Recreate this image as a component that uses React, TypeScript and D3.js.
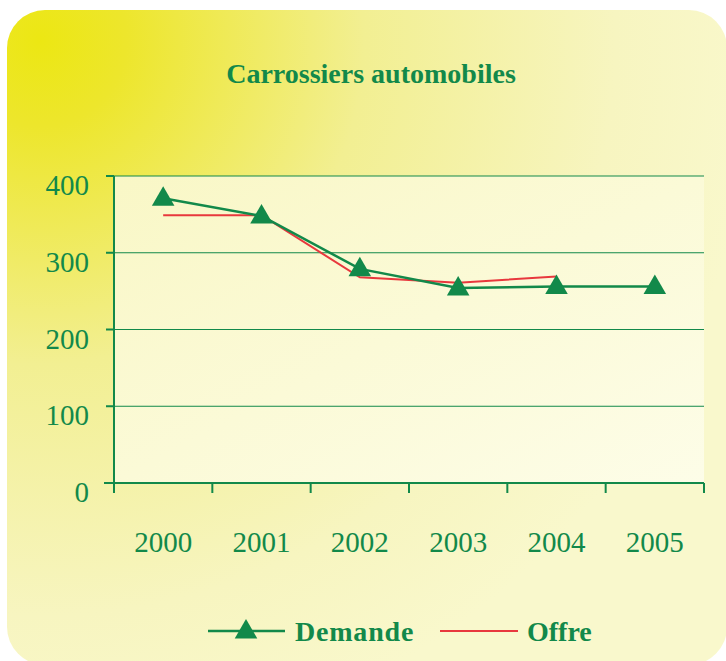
import React from 'react';
import * as d3 from 'd3';

// Carrossiers automobiles: demande vs offre, 2000-2005
const years = ['2000', '2001', '2002', '2003', '2004', '2005'];
const demande = [371, 348, 279, 254, 256, 256];
const offre = [349, 349, 268, 261, 269];
const yTicks = [0, 100, 200, 300, 400];

const W = 726;
const H = 661;
const PLOT = { left: 114, right: 704, top: 176, bottom: 483 };
const GREEN = '#12894a';
const RED = '#e8383d';
const FONT = '"Liberation Serif", "Times New Roman", serif';

const App = () => {
  const x = d3.scaleBand().domain(years).range([PLOT.left, PLOT.right]).padding(0);
  const y = d3.scaleLinear().domain([0, 400]).range([PLOT.bottom, PLOT.top]);
  const cx = (yr: string) => (x(yr) ?? 0) + x.bandwidth() / 2;

  const line = d3
    .line<number>()
    .x((_d, i) => cx(years[i]))
    .y((d) => y(d));

  const tri = d3.symbol().type(d3.symbolTriangle).size(220);
  const bounds = [...years.map((yr) => x(yr) ?? 0), PLOT.right];

  return (
    <div style={{ position: 'absolute', left: 0, top: 0 }}>
      <svg width={W} height={H} style={{ display: 'block' }}>
        <defs>
          <radialGradient id="bg" gradientUnits="userSpaceOnUse" cx={40} cy={40} r={720}>
            <stop offset="0" stopColor="#ece713" />
            <stop offset="0.12" stopColor="#ede62c" />
            <stop offset="0.45" stopColor="#f2ef92" />
            <stop offset="0.8" stopColor="#f7f5c0" />
            <stop offset="1" stopColor="#f9f8cc" />
          </radialGradient>
          <linearGradient id="plotbg" x1="0" y1="0" x2="1" y2="1">
            <stop offset="0" stopColor="#f9f7c6" />
            <stop offset="1" stopColor="#fdfde8" />
          </linearGradient>
        </defs>

        <rect x={7} y={10} width={720} height={655} rx={38} fill="url(#bg)" />
        <rect
          x={PLOT.left}
          y={PLOT.top}
          width={PLOT.right - PLOT.left}
          height={PLOT.bottom - PLOT.top}
          fill="url(#plotbg)"
        />

        <text
          x={371}
          y={83}
          textAnchor="middle"
          fontFamily={FONT}
          fontWeight="bold"
          fontSize={28}
          fill={GREEN}
        >
          Carrossiers automobiles
        </text>

        {/* gridlines + y ticks */}
        {yTicks.map((t) => (
          <g key={t}>
            {t > 0 && (
              <line x1={PLOT.left} x2={PLOT.right} y1={y(t)} y2={y(t)} stroke={GREEN} strokeWidth={1} />
            )}
            <line x1={PLOT.left - 8} x2={PLOT.left} y1={y(t)} y2={y(t)} stroke={GREEN} strokeWidth={2} />
            <text
              x={89}
              y={y(t) + 19}
              textAnchor="end"
              fontFamily={FONT}
              fontSize={29}
              fill={GREEN}
            >
              {t}
            </text>
          </g>
        ))}

        {/* axes */}
        <line x1={PLOT.left} x2={PLOT.left} y1={PLOT.top} y2={PLOT.bottom} stroke={GREEN} strokeWidth={2} />
        <line x1={PLOT.left - 10} x2={PLOT.right} y1={PLOT.bottom} y2={PLOT.bottom} stroke={GREEN} strokeWidth={2} />
        {bounds.map((b, i) => (
          <line key={i} x1={b} x2={b} y1={PLOT.bottom} y2={PLOT.bottom + 10} stroke={GREEN} strokeWidth={2} />
        ))}
        {years.map((yr) => (
          <text
            key={yr}
            x={cx(yr)}
            y={552}
            textAnchor="middle"
            fontFamily={FONT}
            fontSize={29}
            fill={GREEN}
          >
            {yr}
          </text>
        ))}

        {/* series */}
        <path d={line(offre) ?? ''} fill="none" stroke={RED} strokeWidth={2} />
        <path d={line(demande) ?? ''} fill="none" stroke={GREEN} strokeWidth={2.5} />
        {demande.map((d, i) => (
          <path key={i} d={tri() ?? ''} transform={`translate(${cx(years[i])},${y(d) + 1})`} fill={GREEN} />
        ))}

        {/* legend */}
        <g>
          <line x1={208} x2={285} y1={631} y2={631} stroke={GREEN} strokeWidth={2.5} />
          <path d={tri() ?? ''} transform="translate(246,632)" fill={GREEN} />
          <text x={295} y={641} fontFamily={FONT} fontWeight="bold" fontSize={28} letterSpacing={0.8} fill={GREEN}>
            Demande
          </text>
          <line x1={440} x2={518} y1={631} y2={631} stroke={RED} strokeWidth={2} />
          <text x={527} y={641} fontFamily={FONT} fontWeight="bold" fontSize={28} fill={GREEN}>
            Offre
          </text>
        </g>
      </svg>
    </div>
  );
};

export default App;
